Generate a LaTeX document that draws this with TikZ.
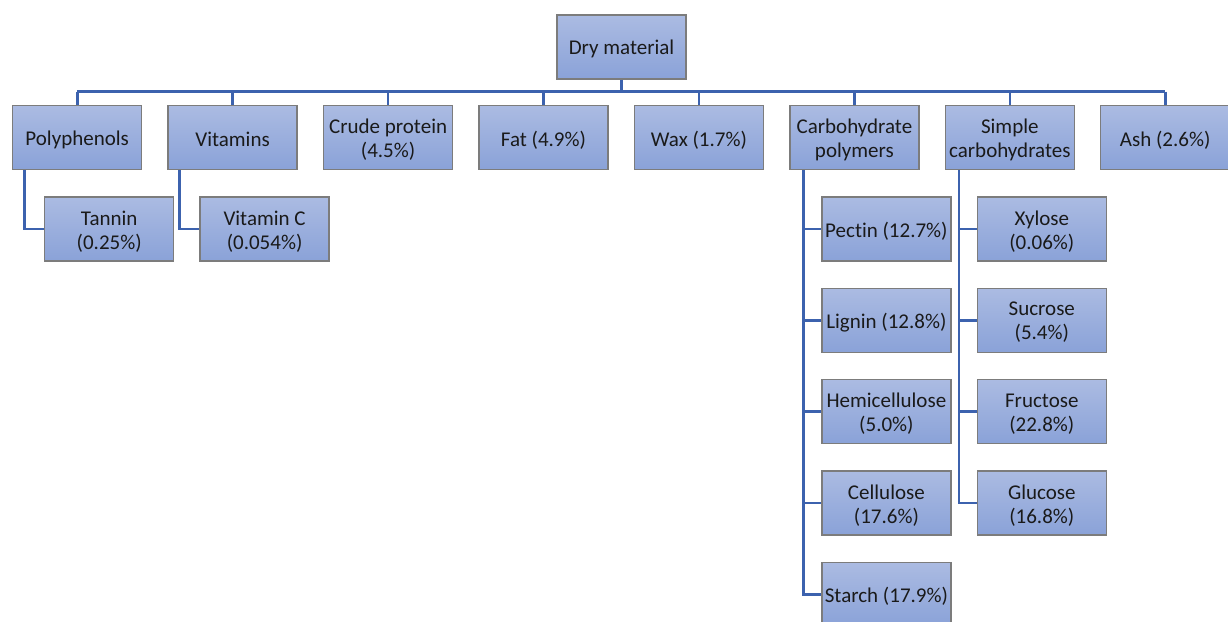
\documentclass[tikz,border=0pt]{standalone}
\usepackage{fontspec}
\setmainfont[Ligatures={NoCommon,NoRequired,NoContextual}]{Carlito}
\definecolor{boxtop}{HTML}{ABBBE2}
\definecolor{boxbot}{HTML}{8AA2D8}
\definecolor{boxline}{HTML}{7C7C7C}
\definecolor{connblue}{HTML}{3C62AE}
\definecolor{txt}{HTML}{1A1A1A}
\tikzset{
  boxtext/.style={align=center, text=txt, inner sep=0pt, font=\fontsize{21}{24}\selectfont},
  box/.style={rectangle, draw=boxline, line width=1.4pt, top color=boxtop, bottom color=boxbot,
    minimum width=129pt, minimum height=64pt, inner sep=0pt,
    label={[boxtext, yshift=-2.3pt]center:{#1}}},
  conn/.style={draw=connblue, line width=2.6pt}
}
\begin{document}
\begin{tikzpicture}[x=1pt,y=-1pt]
\useasboundingbox (0,0) rectangle (1228,621);
% root
\node[box={Dry material}] (dm) at (621.5,47) {};
% top row
\node[box={Polyphenols}] (poly) at (77.2,137.5) {};
\node[box={Vitamins}] (vit) at (232.6,137.5) {};
\node[box={Crude protein\\(4.5\%)}] (crude) at (388.1,137.5) {};
\node[box={Fat (4.9\%)}] (fat) at (543.5,137.5) {};
\node[box={Wax (1.7\%)}] (wax) at (698.9,137.5) {};
\node[box={Carbohydrate\\polymers}] (cpoly) at (854.4,137.5) {};
\node[box={Simple\\carbohydrates}] (scarb) at (1009.8,137.5) {};
\node[box={Ash (2.6\%)}] (ash) at (1165.2,137.5) {};
% children
\node[box={Tannin\\(0.25\%)}] (tan) at (109.2,229) {};
\node[box={Vitamin C\\(0.054\%)}] (vitc) at (264.6,229) {};
\node[box={Pectin (12.7\%)}] (pec) at (886.4,229) {};
\node[box={Lignin (12.8\%)}] (lig) at (886.4,320.3) {};
\node[box={Hemicellulose\\(5.0\%)}] (hemi) at (886.4,411.7) {};
\node[box={Cellulose\\(17.6\%)}] (cell) at (886.4,503) {};
\node[box={Starch (17.9\%)}] (star) at (886.4,594.3) {};
\node[box={Xylose\\(0.06\%)}] (xyl) at (1041.8,229) {};
\node[box={Sucrose\\(5.4\%)}] (sucr) at (1041.8,320.3) {};
\node[box={Fructose\\(22.8\%)}] (fruc) at (1041.8,411.7) {};
\node[box={Glucose\\(16.8\%)}] (gluc) at (1041.8,503) {};
% bus
\coordinate (busy) at (0,91.5);
\draw[conn] (dm.south) -- (dm.south |- busy);
\draw[conn] (poly.north |- busy) -- (ash.north |- busy);
\foreach \n in {poly,vit,crude,fat,wax,cpoly,scarb,ash}
  \draw[conn] (\n.north |- busy) -- (\n.north);
% child connectors
\coordinate (pl) at ([xshift=12.3pt]poly.south west);
\coordinate (vl) at ([xshift=12.3pt]vit.south west);
\coordinate (cl) at ([xshift=14.5pt]cpoly.south west);
\coordinate (sl) at ([xshift=14.5pt]scarb.south west);
\draw[conn] (pl) |- (tan.west);
\draw[conn] (vl) |- (vitc.west);
\draw[conn] (cl) |- (star.west);
\foreach \n in {pec,lig,hemi,cell}
  \draw[conn] (cl |- \n.west) -- (\n.west);
\draw[conn] (sl) |- (gluc.west);
\foreach \n in {xyl,sucr,fruc}
  \draw[conn] (sl |- \n.west) -- (\n.west);
\end{tikzpicture}
\end{document}
